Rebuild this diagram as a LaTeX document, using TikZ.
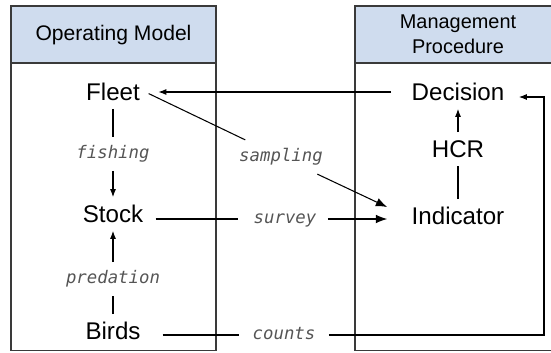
\documentclass[tikz,border=0pt]{standalone}
\usepackage{fontspec}
\setmainfont{Liberation Sans}
\setmonofont{DejaVu Sans Mono}
\usetikzlibrary{arrows.meta}

\definecolor{headblue}{HTML}{CFDCEE}
\definecolor{boxgray}{HTML}{3A3A3A}
\definecolor{labelgray}{HTML}{555555}

\tikzset{
  part/.style={inner xsep=1.5mm, inner ysep=0pt, text height=14.8pt, text depth=0pt,
    font=\fontsize{20.6}{24}\selectfont},
  verb/.style={inner xsep=1.5mm, inner ysep=0pt, text height=11.2pt, text depth=3.6pt,
    text=labelgray, font=\fontsize{14.8}{17}\selectfont\ttfamily\itshape},
  head/.style={align=center},
  panel/.style={draw=boxgray, line width=1.4pt},
  gap/.style={shorten <=2.3mm, shorten >=2.3mm},
  big/.style={-{Latex[length=3.4mm,width=2.6mm]}},
}

\begin{document}
\begin{tikzpicture}[x=0.3mm, y=-0.3mm, >={Latex[length=2.4mm,width=1.8mm]}, line width=0.9pt]
    \useasboundingbox (0,0) rectangle (551,352);
    % the two panels
    \draw[panel, fill=headblue] (11,6) rectangle (216,63);
    \draw[panel] (11,63) rectangle (216,350.5);
    \draw[panel, fill=headblue] (355,6) rectangle (560,63);
    \draw[panel] (355,63) rectangle (560,350.5);
    \node[head, anchor=base, font=\fontsize{18}{21}\selectfont] (omhead) at (113.5,40) {Operating Model};
    \node[head, font=\fontsize{17}{21.3}\selectfont] (mphead) at (458,34) {Management\\Procedure};

    % operating model
    \node[part] (fleet) at (113,92) {Fleet};
    \node[verb] (fishing) at (113,154) {fishing};
    \node[part] (stock) at (113,214) {Stock};
    \node[verb] (predation) at (113,279) {predation};
    \node[part] (birds) at (113,331) {Birds};

    % management procedure
    \node[part] (decision) at (458,92) {Decision};
    \node[part] (hcr) at (458,149) {HCR};
    \node[part] (indicator) at (458,216) {Indicator};

    % links between
    \node[verb] (sampling) at (281,157) {sampling};
    \node[verb] (survey) at (285,219) {survey};
    \node[verb] (counts) at (284,335) {counts};
    \coordinate (turn) at (544,97);

    \draw[gap] (fleet) -- (fishing);
    \draw[gap,->] (fishing) -- (stock);
    \draw[gap] (birds) -- (predation);
    \draw[gap,->] (predation) -- (stock);
    \draw[gap] (indicator) -- (hcr);
    \draw[gap,->] (hcr) -- (decision);
    \draw[->, shorten <=4.5mm, shorten >=3.9mm] (decision) -- (fleet);
    \draw[shorten <=1.1mm, shorten >=5.5mm] (fleet.east) -- (sampling);
    \draw[big, shorten <=5.6mm, shorten >=6.3mm] (sampling) -- (indicator.west);
    \draw[shorten <=2.1mm, shorten >=3mm] (stock.east |- survey) -- (survey.west);
    \draw[big, shorten <=1.8mm, shorten >=5.7mm] (survey.east) -- (survey -| indicator.west);
    \draw[shorten <=5mm, shorten >=2.4mm] (birds.east |- counts) -- (counts.west);
    \draw[->, shorten <=2.4mm, shorten >=2.7mm] (counts.east) -- (counts -| turn) -- (turn) -- (turn -| decision.east);
\end{tikzpicture}
\end{document}
